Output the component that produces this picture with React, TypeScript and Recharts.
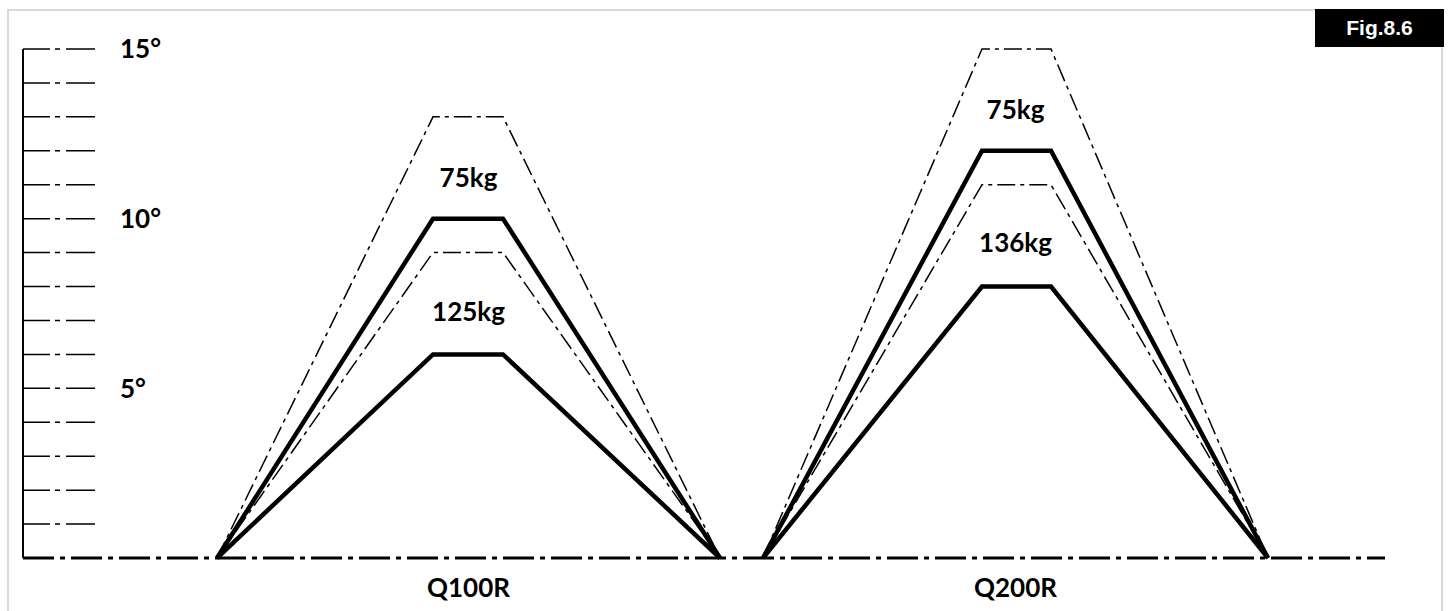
import { ComposedChart, Line, Scatter, XAxis, YAxis } from 'recharts'

// trolley models and the trapezoid outline of each (x in chart units, 1 unit ≈ 10px)
const groups = ['Q100R', 'Q200R']
const baseStart = [19.4, 74.0]
const topStart = [41.0, 95.9]
const topEnd = [48.0, 102.8]
const baseEnd = [69.7, 124.5]

// tilt angles in degrees
const heavyAngle = [6, 8]
const heavyAngleMax = [9, 11]
const lightAngle = [10, 12]
const lightAngleMax = [13, 15]

// load captions and the height they sit at
const lightLabels = ['75kg', '75kg']
const lightLabelAt = [11.2, 13.2]
const heavyLabels = ['125kg', '136kg']
const heavyLabelAt = [7.25, 9.3]

const yTicks = [1, 2, 3, 4, 5, 6, 7, 8, 9, 10, 11, 12, 13, 14, 15]
const X_MAX = 136.2

const FONT = 'Lato, "Open Sans", sans-serif'

type Row = { x: number; lightMax: number | null; light: number | null; heavyMax: number | null; heavy: number | null }

const rows: Row[] = []
groups.forEach((_, i) => {
  if (i > 0) {
    rows.push({ x: (baseEnd[i - 1] + baseStart[i]) / 2, lightMax: null, light: null, heavyMax: null, heavy: null })
  }
  rows.push({ x: baseStart[i], lightMax: 0, light: 0, heavyMax: 0, heavy: 0 })
  rows.push({ x: topStart[i], lightMax: lightAngleMax[i], light: lightAngle[i], heavyMax: heavyAngleMax[i], heavy: heavyAngle[i] })
  rows.push({ x: topEnd[i], lightMax: lightAngleMax[i], light: lightAngle[i], heavyMax: heavyAngleMax[i], heavy: heavyAngle[i] })
  rows.push({ x: baseEnd[i], lightMax: 0, light: 0, heavyMax: 0, heavy: 0 })
})

const centers = groups.map((_, i) => (baseStart[i] + baseEnd[i]) / 2)

const labelPoints = groups.flatMap((_, i) => [
  { x: centers[i], y: lightLabelAt[i], text: lightLabels[i] },
  { x: centers[i], y: heavyLabelAt[i], text: heavyLabels[i] },
])

function YTick(props: any) {
  const { x, y, payload } = props
  return (
    <g>
      <line x1={x} x2={x + 72} y1={y} y2={y} stroke="#000" strokeWidth={1.5} strokeDasharray="27 5 5 6 29" />
      {payload.value % 5 === 0 && (
        <text x={x + 97} y={y} dy="0.36em" fontFamily={FONT} fontWeight={700} fontSize={26} fill="#000">
          {payload.value}°
        </text>
      )}
    </g>
  )
}

function XTick(props: any) {
  const { x, y, payload } = props
  const idx = centers.findIndex((c) => Math.abs(c - payload.value) < 0.01)
  return (
    <text x={x} y={y + 39} textAnchor="middle" fontFamily={FONT} fontWeight={700} fontSize={26} fill="#000">
      {groups[idx]}
    </text>
  )
}

function LoadLabel(props: any) {
  const { cx, cy, payload } = props
  return (
    <text x={cx} y={cy} dy="0.36em" textAnchor="middle" fontFamily={FONT} fontWeight={700} fontSize={26} fill="#000">
      {payload.text}
    </text>
  )
}

export default function App() {
  return (
    <div style={{ position: 'relative', width: 1451, height: 611, overflow: 'hidden', background: '#fff' }}>
      <style>{'body{margin:0}'}</style>
      <div
        style={{
          position: 'absolute',
          left: 7,
          top: 9,
          width: 1432,
          height: 640,
          border: '2px solid #dadada',
        }}
      />
      <ComposedChart
        width={1451}
        height={611}
        data={rows}
        margin={{ top: 49, right: 66, bottom: 13, left: 3 }}
        style={{ position: 'absolute', left: 0, top: 0 }}
      >
        <XAxis
          dataKey="x"
          type="number"
          domain={[0, X_MAX]}
          allowDataOverflow
          ticks={centers}
          tick={<XTick />}
          tickLine={false}
          tickSize={0}
          tickMargin={0}
          height={40}
          axisLine={{ stroke: '#000', strokeWidth: 3, strokeDasharray: '31 6 5 6' }}
        />
        <YAxis
          type="number"
          domain={[0, 15]}
          ticks={yTicks}
          interval={0}
          tick={<YTick />}
          tickLine={false}
          tickSize={0}
          tickMargin={0}
          width={20}
          axisLine={{ stroke: '#000', strokeWidth: 2 }}
        />
        <Line dataKey="lightMax" stroke="#000" strokeWidth={1.5} strokeDasharray="18 5 4 5" dot={false} isAnimationActive={false} />
        <Line dataKey="heavyMax" stroke="#000" strokeWidth={1.5} strokeDasharray="18 5 4 5" dot={false} isAnimationActive={false} />
        <Line dataKey="light" stroke="#000" strokeWidth={4.5} strokeLinejoin="miter" dot={false} isAnimationActive={false} />
        <Line dataKey="heavy" stroke="#000" strokeWidth={4.5} strokeLinejoin="miter" dot={false} isAnimationActive={false} />
        <Scatter data={labelPoints} dataKey="y" shape={<LoadLabel />} isAnimationActive={false} />
      </ComposedChart>
      <div
        style={{
          position: 'absolute',
          left: 1315,
          top: 9,
          width: 129,
          height: 38,
          background: '#000',
          color: '#fff',
          fontFamily: '"Liberation Sans", Arial, sans-serif',
          fontWeight: 700,
          fontSize: 21,
          lineHeight: '38px',
          textAlign: 'center',
        }}
      >
        Fig.8.6
      </div>
    </div>
  )
}
